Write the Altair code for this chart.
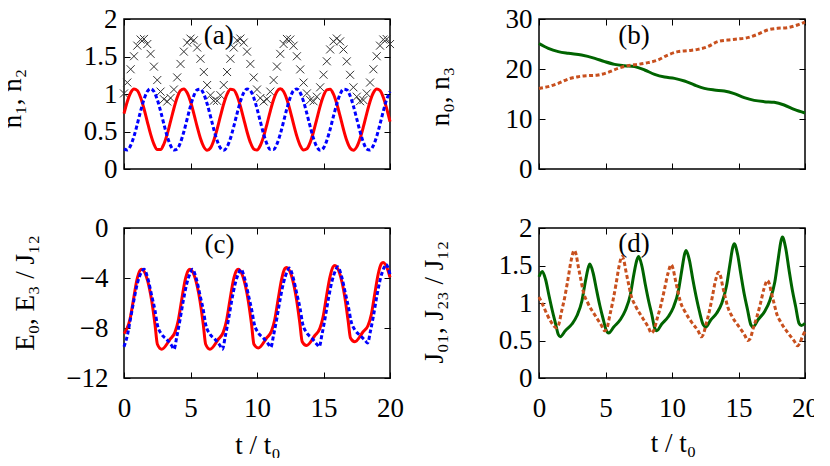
import altair as alt
import pandas as pd

FONT = "Liberation Serif"
FS = 27
TICK = 6

X_TICKS = [0, 5, 10, 15, 20]
Y_TICKS = [[0, 0.5, 1, 1.5, 2], [0, 10, 20, 30], [-12, -8, -4, 0], [0, 0.5, 1, 1.5, 2]]
Y_DOMAINS = [[0, 2], [0, 30], [-12, 0], [0, 2]]
Y_TITLES = ["n₁, n₂", "n₀, n₃", "E₀, E₃ / J₁₂", "J₀₁, J₂₃ / J₁₂"]
X_TITLE = "t / t₀"
PANEL_LABELS = ["(a)", "(b)", "(c)", "(d)"]
LABEL_T = [7.12, 7.15, 7.18, 7.15]
LABEL_V = [1.78, 26.7, -1.39, 1.79]

# ---------------- panel (a) ----------------
T_A = [0, 0.25, 0.5, 0.75, 1, 1.25, 1.5, 1.75, 2, 2.25, 2.5, 2.75, 3, 3.25, 3.5, 3.75,
       4, 4.25, 4.5, 4.75, 5, 5.25, 5.5, 5.75, 6, 6.25, 6.5, 6.75, 7, 7.25, 7.5, 7.75,
       8, 8.25, 8.5, 8.75, 9, 9.25, 9.5, 9.75, 10, 10.25, 10.5, 10.75, 11, 11.25, 11.5, 11.75,
       12, 12.25, 12.5, 12.75, 13, 13.25, 13.5, 13.75, 14, 14.25, 14.5, 14.75, 15, 15.25, 15.5, 15.75,
       16, 16.25, 16.5, 16.75, 17, 17.25, 17.5, 17.75, 18, 18.25, 18.5, 18.75, 19, 19.25, 19.5, 19.75, 20]
N1 = [0.739, 0.900, 1.017, 1.068, 1.046, 0.953, 0.807, 0.633, 0.465, 0.332,
      0.259, 0.259, 0.333, 0.465, 0.634, 0.807, 0.953, 1.046, 1.068, 1.016,
      0.899, 0.739, 0.564, 0.406, 0.295, 0.250, 0.280, 0.380, 0.530, 0.704,
      0.870, 0.998, 1.064, 1.056, 0.977, 0.839, 0.669, 0.497, 0.355, 0.268,
      0.253, 0.313, 0.435, 0.599, 0.773, 0.927, 1.033, 1.070, 1.033, 0.927,
      0.773, 0.598, 0.435, 0.312, 0.253, 0.269, 0.355, 0.497, 0.669, 0.839,
      0.977, 1.056, 1.064, 0.998, 0.870, 0.704, 0.530, 0.379, 0.280, 0.250,
      0.295, 0.407, 0.564, 0.739, 0.900, 1.017, 1.068, 1.046, 0.953, 0.806,
      0.633]
N2 = [0.268, 0.253, 0.313, 0.435, 0.599, 0.773, 0.927, 1.033, 1.070, 1.033,
      0.927, 0.773, 0.598, 0.435, 0.313, 0.253, 0.268, 0.355, 0.497, 0.669,
      0.839, 0.977, 1.056, 1.064, 0.998, 0.870, 0.704, 0.530, 0.379, 0.280,
      0.250, 0.295, 0.406, 0.564, 0.739, 0.900, 1.017, 1.068, 1.046, 0.953,
      0.807, 0.633, 0.465, 0.332, 0.259, 0.259, 0.333, 0.465, 0.634, 0.807,
      0.953, 1.046, 1.068, 1.016, 0.899, 0.739, 0.564, 0.406, 0.295, 0.250,
      0.280, 0.380, 0.530, 0.704, 0.870, 0.998, 1.064, 1.056, 0.976, 0.839,
      0.669, 0.497, 0.355, 0.268, 0.253, 0.313, 0.435, 0.599, 0.773, 0.927,
      1.033]
N12 = [1.007, 1.153, 1.330, 1.503, 1.645, 1.726, 1.734, 1.666, 1.535, 1.365,
       1.186, 1.032, 0.931, 0.900, 0.947, 1.060, 1.221, 1.401, 1.565, 1.685,
       1.738, 1.716, 1.620, 1.470, 1.293, 1.120, 0.984, 0.910, 0.909, 0.984,
       1.120, 1.293, 1.470, 1.620, 1.716, 1.739, 1.686, 1.565, 1.401, 1.221,
       1.060, 0.946, 0.900, 0.931, 1.032, 1.186, 1.366, 1.535, 1.667, 1.734,
       1.726, 1.644, 1.503, 1.328, 1.152, 1.008, 0.919, 0.903, 0.964, 1.089,
       1.257, 1.436, 1.594, 1.702, 1.740, 1.702, 1.594, 1.435, 1.256, 1.089,
       0.964, 0.904, 0.919, 1.007, 1.153, 1.330, 1.503, 1.645, 1.726, 1.733,
       1.666]

# ---------------- panel (b) ----------------
T_N0 = [0, 0.7, 1.45, 2.2, 3.2, 4.2, 4.94, 5.69, 6.44, 7.19, 7.94, 8.69, 9.44, 10.19,
        10.94, 11.69, 12.43, 13.18, 13.93, 14.68, 15.43, 16.18, 16.93, 17.68, 18.43, 19.18, 20]
N0 = [25.1, 24.13, 23.47, 23.13, 22.8, 22.13, 21.47, 20.93, 20.67, 20.47, 19.8, 18.93, 18.4, 18.13,
      17.6, 16.8, 16.13, 15.8, 15.6, 15.07, 14.27, 13.73, 13.47, 13.33, 12.8, 11.93, 11.2]
T_N3 = [0, 0.7, 1.45, 2.2, 2.95, 3.7, 4.44, 5.19, 5.94, 6.69, 7.44, 8.19, 8.94, 9.69,
        10.44, 11.19, 11.94, 12.68, 13.43, 14.18, 14.93, 15.68, 16.43, 17.18, 17.93, 18.68, 19.43, 20]
N3 = [16.1, 16.47, 17.13, 18.0, 18.47, 18.67, 18.8, 19.33, 20.13, 20.67, 20.93, 21.27, 21.8, 22.8,
      23.47, 23.67, 23.93, 24.47, 25.47, 25.8, 26.0, 26.27, 26.93, 27.8, 28.13, 28.27, 28.8, 29.4]

# ---------------- panel (c) ----------------
T_E0 = [0, 0.2, 0.45, 0.7, 0.96, 1.2, 1.33, 1.7, 2.08, 2.33, 2.51, 2.83,
        3.46, 3.83, 4.08, 4.33, 4.59, 4.83, 4.96, 5.33, 5.71, 5.96, 6.14, 6.46,
        7.09, 7.46, 7.71, 7.96, 8.22, 8.46, 8.59, 8.96, 9.34, 9.59, 9.77, 10.09,
        10.72, 11.09, 11.34, 11.59, 11.85, 12.09, 12.22, 12.59, 12.97, 13.22, 13.4, 13.72,
        14.35, 14.72, 14.97, 15.22, 15.48, 15.72, 15.85, 16.22, 16.6, 16.85, 17.03, 17.35,
        17.98, 18.35, 18.6, 18.85, 19.11, 19.35, 19.48, 19.85, 20]
E0 = [-8.45, -8.1, -7.3, -5.8, -4.2, -3.4, -3.3, -3.95, -5.8, -7.7, -9.3, -9.7,
      -8.9, -8.35, -7.4, -5.8, -4.2, -3.4, -3.3, -3.95, -5.8, -7.7, -9.3, -9.7,
      -8.9, -8.35, -7.4, -5.8, -4.2, -3.4, -3.3, -3.95, -5.8, -7.7, -9.3, -9.6,
      -8.8, -8.25, -7.3, -5.7, -4.1, -3.25, -3.15, -3.8, -5.7, -7.6, -9.1, -9.4,
      -8.6, -8.05, -7.1, -5.5, -3.95, -3.1, -3.0, -3.65, -5.5, -7.4, -8.8, -9.1,
      -8.3, -7.8, -6.9, -5.3, -3.7, -2.85, -2.75, -3.4, -3.95]
T_E3 = [0, 0.25, 0.48, 0.74, 0.99, 1.3, 1.5,
        1.83, 2.08, 2.33, 2.5, 2.83, 3.2, 3.58, 3.76, 3.96, 4.2, 4.46, 4.71, 5.0, 5.14,
        5.47, 5.72, 5.97, 6.14, 6.47, 6.84, 7.22, 7.4, 7.6, 7.84, 8.1, 8.35, 8.64, 8.78,
        9.11, 9.36, 9.61, 9.78, 10.11, 10.48, 10.86, 11.04, 11.24, 11.48, 11.74, 11.99, 12.28, 12.42,
        12.75, 13.0, 13.25, 13.42, 13.75, 14.12, 14.5, 14.68, 14.88, 15.12, 15.38, 15.63, 15.92, 16.06,
        16.39, 16.64, 16.89, 17.06, 17.39, 17.76, 18.14, 18.32, 18.52, 18.76, 19.02, 19.27, 19.56, 19.7, 20]
E3 = [-9.5, -8.6, -7.3, -5.8, -4.5, -3.55, -3.3,
      -4.2, -5.4, -6.6, -7.7, -8.5, -8.9, -9.4, -9.7, -8.75, -7.4, -5.8, -4.5, -3.55, -3.3,
      -4.2, -5.4, -6.6, -7.7, -8.5, -8.9, -9.4, -9.7, -8.75, -7.4, -5.8, -4.5, -3.55, -3.3,
      -4.2, -5.4, -6.6, -7.6, -8.4, -8.8, -9.3, -9.55, -8.6, -7.3, -5.7, -4.4, -3.45, -3.2,
      -4.1, -5.3, -6.5, -7.6, -8.4, -8.8, -9.3, -9.5, -8.55, -7.2, -5.6, -4.3, -3.35, -3.1,
      -4.0, -5.2, -6.4, -7.4, -8.2, -8.6, -9.0, -9.2, -8.3, -7.0, -5.4, -4.1, -3.15, -2.9, -3.7]

# ---------------- panel (d) ----------------
T_J01 = [0, 0.25, 0.5, 0.75, 1.0, 1.25, 1.45, 1.6,
         1.98, 2.48, 2.85, 3.23, 3.48, 3.72, 3.82,
         4.07, 4.32, 4.57, 4.82, 5.07, 5.24,
         5.62, 6.12, 6.49, 6.87, 7.12, 7.37, 7.49,
         7.74, 7.99, 8.24, 8.49, 8.69, 8.85,
         9.23, 9.73, 10.1, 10.48, 10.73, 10.96, 11.06,
         11.31, 11.56, 11.81, 12.06, 12.35, 12.55,
         12.9, 13.38, 13.75, 14.1, 14.35, 14.58, 14.68,
         14.93, 15.18, 15.43, 15.68, 15.93, 16.1,
         16.48, 16.98, 17.35, 17.73, 17.98, 18.2, 18.3,
         18.55, 18.8, 19.05, 19.3, 19.55, 19.72, 20]
J01 = [1.35, 1.42, 1.31, 1.10, 0.90, 0.72, 0.58, 0.55,
       0.63, 0.72, 0.83, 1.03, 1.28, 1.48, 1.52,
       1.40, 1.18, 0.97, 0.79, 0.63, 0.60,
       0.68, 0.78, 0.90, 1.11, 1.37, 1.58, 1.62,
       1.49, 1.25, 1.03, 0.84, 0.67, 0.63,
       0.72, 0.82, 0.94, 1.16, 1.43, 1.66, 1.70,
       1.57, 1.32, 1.09, 0.89, 0.71, 0.68,
       0.77, 0.87, 1.0, 1.23, 1.51, 1.75, 1.79,
       1.65, 1.38, 1.12, 0.91, 0.71, 0.68,
       0.78, 0.89, 1.03, 1.28, 1.58, 1.83, 1.88,
       1.73, 1.44, 1.17, 0.95, 0.73, 0.70, 0.73]
T_J23 = [0, 0.3, 0.6, 0.9, 1.3,
         1.46, 1.7, 1.94, 2.18, 2.42, 2.65,
         2.8, 2.95, 3.15, 3.32, 3.7, 4.2, 4.7, 4.94,
         5.1, 5.33, 5.56, 5.79, 6.02, 6.24,
         6.39, 6.54, 6.74, 6.91, 7.29, 7.79, 8.24, 8.44,
         8.62, 8.88, 9.15, 9.42, 9.69, 9.94,
         10.09, 10.24, 10.44, 10.61, 10.99, 11.49, 11.99, 12.19,
         12.35, 12.58, 12.81, 13.04, 13.27, 13.5,
         13.65, 13.8, 14.0, 14.17, 14.55, 15.05, 15.5, 15.68,
         15.86, 16.12, 16.39, 16.66, 16.93, 17.18,
         17.33, 17.48, 17.68, 17.85, 18.23, 18.73, 19.2, 19.43,
         19.6, 19.8, 20]
J23 = [1.08, 0.97, 0.85, 0.75, 0.67,
       0.70, 0.89, 1.08, 1.32, 1.57, 1.70,
       1.64, 1.49, 1.31, 1.16, 0.99, 0.84, 0.70, 0.63,
       0.66, 0.84, 1.03, 1.25, 1.49, 1.62,
       1.56, 1.42, 1.25, 1.11, 0.95, 0.80, 0.67, 0.60,
       0.63, 0.79, 0.96, 1.17, 1.39, 1.51,
       1.45, 1.32, 1.16, 1.03, 0.88, 0.74, 0.62, 0.55,
       0.58, 0.73, 0.89, 1.09, 1.30, 1.41,
       1.36, 1.23, 1.08, 0.96, 0.81, 0.68, 0.56, 0.50,
       0.52, 0.67, 0.82, 1.0, 1.2, 1.30,
       1.25, 1.13, 0.99, 0.87, 0.73, 0.60, 0.49, 0.43,
       0.46, 0.55, 0.62]

RED = "#ff0000"
BLUE = "#0000ff"
GREEN = "#006400"
ORANGE = "#c8501e"
MARKER = "#333333"
DASH = [4, 2.5]

# per-panel layout of the left/bottom axis texts
Y_LABEL_PAD = [7, 7, 16, 7]
Y_TITLE_X = [-109.5, -96.7, -96.7, -103]
Y_TITLE_Y = [79, 77, 64.5, 73.7]
X_TITLE_X = [133.5, 133.5, 133.5, 134]
X_TITLE_Y = [81, 81, 81, 79.5]


def df(t, v):
    return pd.DataFrame({"t": t, "v": v})


def left_axis(i):
    return alt.Axis(orient="left", offset=-TICK, tickSize=TICK, values=Y_TICKS[i], format="~r",
                    labelPadding=Y_LABEL_PAD[i], labelAlign="right", labelBaseline="middle",
                    title=Y_TITLES[i], titleX=Y_TITLE_X[i], titleY=Y_TITLE_Y[i], titleAngle=270,
                    titleAlign="center", titleBaseline="alphabetic")


def right_axis(i):
    return alt.Axis(orient="right", offset=-TICK, tickSize=TICK, values=Y_TICKS[i],
                    labels=False, title=None)


def bottom_axis(i, with_labels):
    if with_labels:
        return alt.Axis(orient="bottom", offset=-TICK, tickSize=TICK, values=X_TICKS, format="~r",
                        labelPadding=38.5, labelBaseline="alphabetic", labelAlign="center",
                        title=X_TITLE, titleX=X_TITLE_X[i], titleY=X_TITLE_Y[i], titleAngle=0,
                        titleAlign="center", titleBaseline="alphabetic")
    return alt.Axis(orient="bottom", offset=-TICK, tickSize=TICK, values=X_TICKS,
                    labels=False, title=None)


def top_axis():
    return alt.Axis(orient="top", offset=-TICK, tickSize=TICK, values=X_TICKS,
                    labels=False, title=None)


def make_panel(i, series, bottom_labels):
    xs = alt.Scale(domain=[0, 20], nice=False, zero=False)
    ys = alt.Scale(domain=Y_DOMAINS[i], nice=False, zero=False)
    layers = []
    for k, ch in enumerate(series):
        if k == 0:
            xa, ya = bottom_axis(i, bottom_labels), left_axis(i)
        elif k == 1:
            xa, ya = top_axis(), right_axis(i)
        else:
            xa, ya = None, None
        layers.append(ch.encode(x=alt.X("t:Q", scale=xs, axis=xa),
                                y=alt.Y("v:Q", scale=ys, axis=ya)))
    lab = alt.Chart(pd.DataFrame({"t": [LABEL_T[i]], "v": [LABEL_V[i]], "s": [PANEL_LABELS[i]]})).mark_text(
        font=FONT, fontSize=FS, color="black", align="center", baseline="middle"
    ).encode(x=alt.X("t:Q", scale=xs, axis=None), y=alt.Y("v:Q", scale=ys, axis=None), text="s:N")
    layers.append(lab)
    return alt.layer(*layers).resolve_axis(x="independent", y="independent").properties(width=266, height=150)


def solid(d, color):
    return alt.Chart(d).mark_line(color=color, strokeWidth=3, interpolate="monotone")


def dashed(d, color):
    return alt.Chart(d).mark_line(color=color, strokeWidth=3, strokeDash=DASH, interpolate="monotone")


marks_a = alt.Chart(df(T_A, N12)).mark_point(shape="M-1,-1L1,1M-1,1L1,-1", size=64, filled=False,
                                             stroke=MARKER, strokeWidth=1, opacity=1)
pa = make_panel(0, [marks_a, solid(df(T_A, N1), RED), dashed(df(T_A, N2), BLUE)], False)
pb = make_panel(1, [solid(df(T_N0, N0), GREEN), dashed(df(T_N3, N3), ORANGE)], False)
pc = make_panel(2, [solid(df(T_E0, E0), RED), dashed(df(T_E3, E3), BLUE)], True)
pd_ = make_panel(3, [solid(df(T_J01, J01), GREEN), dashed(df(T_J23, J23), ORANGE)], True)

chart = alt.concat(pa, pb, pc, pd_, columns=2, spacing={"row": 59, "column": 149}, bounds="flush").properties(
    autosize=alt.AutoSizeParams(type="none"),
    padding={"left": 116, "top": 11, "right": 690, "bottom": 439},
).configure_view(stroke="black", strokeWidth=1.5).configure_axis(
    labelFont=FONT, labelFontSize=FS, titleFont=FONT, titleFontSize=FS, titleFontWeight="normal",
    labelColor="black", titleColor="black", tickColor="black", tickWidth=1, domain=False, grid=False,
    labelFlush=False, labelOverlap=False,
)

chart.save("out.html", embed_options={"renderer": "svg", "actions": False})
